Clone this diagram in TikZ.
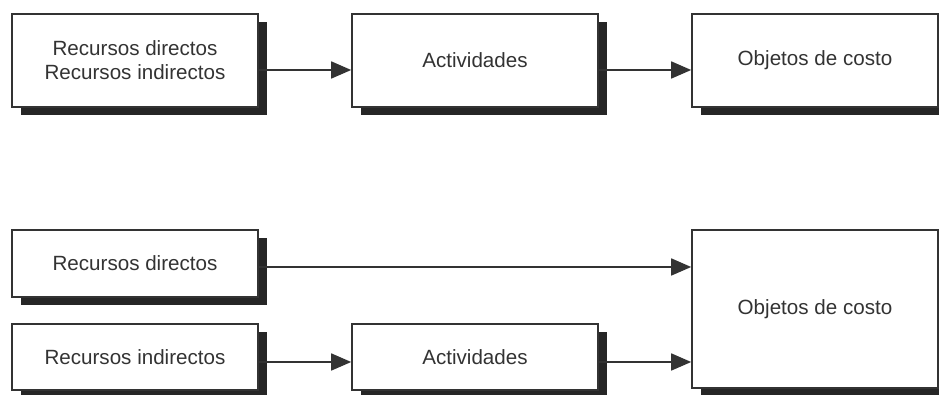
\documentclass[tikz,border=0pt]{standalone}
\usepackage{fontspec}
\setmainfont{Liberation Sans}
\usetikzlibrary{arrows.meta,shadows}

\definecolor{inkgray}{HTML}{333333}
\tikzset{
  box/.style={draw=inkgray, line width=0.8pt, fill=white, text=inkgray,
    minimum width=123pt, align=center, font=\fontsize{10.3}{12}\selectfont,
    drop shadow={shadow xshift=4.5pt, shadow yshift=-4pt, fill=black!85, opacity=1}},
  arr/.style={draw=inkgray, line width=0.8pt, -{Triangle[length=10pt,width=8.5pt]}}
}

\begin{document}
\begin{tikzpicture}[x=0.5pt,y=0.5pt]
    \useasboundingbox (0,0) rectangle (939,395);

    % Upper chain
    \node[box, minimum height=46.5pt] (res) at (135,334.5) {Recursos directos\\Recursos indirectos};
    \node[box, minimum height=46.5pt] (act) at (475,334.5) {Actividades};
    \node[box, minimum height=46.5pt] (obj) at (815,334.5) {Objetos de costo};

    \draw[arr] ([yshift=-4.75pt]res.east) -- ([yshift=-4.75pt]act.west);
    \draw[arr] ([yshift=-4.75pt]act.east) -- ([yshift=-4.75pt]obj.west);

    % Lower chain
    \node[box, minimum height=33.5pt] (dir) at (135,131.5) {Recursos directos};
    \node[box, minimum height=33pt] (ind) at (135,38) {Recursos indirectos};
    \node[box, minimum height=33pt] (actb) at (475,38) {Actividades};
    \node[box, minimum height=79pt] (objb) at (815,86) {Objetos de costo};

    \coordinate (d) at ([yshift=-1.75pt]dir.east);
    \coordinate (i) at ([yshift=-2.5pt]ind.east);
    \coordinate (a) at ([yshift=-2.5pt]actb.east);
    \draw[arr] (d) -- (d -| objb.west);
    \draw[arr] (i) -- (i -| actb.west);
    \draw[arr] (a) -- (a -| objb.west);

\end{tikzpicture}
\end{document}
